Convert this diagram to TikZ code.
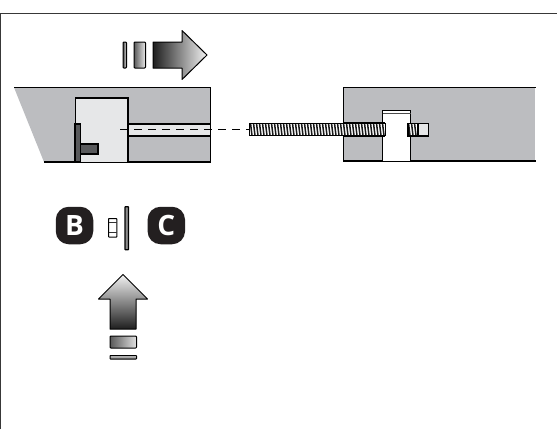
\documentclass[tikz,border=0pt]{standalone}
\usepackage{fontspec}
\setsansfont{Open Sans}
\definecolor{blockgray}{HTML}{BCBDC0}
\definecolor{lightgray2}{HTML}{E6E7E8}
\definecolor{darkbar}{HTML}{58595B}
\definecolor{badge}{HTML}{231F20}
\tikzset{
  outl/.style={draw=black,line width=1.5pt,line join=miter},
  grad/.style={draw=black,line width=1pt,line join=round},
  badgebox/.style={fill=badge,text=white,rounded corners=13pt,minimum size=37.5pt,inner sep=0pt,font=\sffamily\bfseries\fontsize{28}{28}\selectfont},
}
\begin{document}
\begin{tikzpicture}[x=1pt,y=-1pt]
\useasboundingbox (0,0) rectangle (557,429);
\draw[color=black!78,line width=1.2pt] (0.5,429) -- (0.5,13.5) -- (557,13.5);
% top arrow
\draw[grad,left color=black!88,right color=black!5] (153,42) -- (182,42) -- (182,30.5) -- (207,55) -- (182,79.5) -- (182,68) -- (153,68) -- cycle;
\draw[grad,left color=black!65,right color=black!8,rounded corners=0.8pt] (134,42) rectangle (145.5,68);
\draw[grad,left color=black!70,right color=black!10,rounded corners=0.8pt] (123,42) rectangle (126.5,68);
% left block
\fill[blockgray] (14,87.5) -- (210.5,87.5) -- (210.5,162) -- (44,162) -- cycle;
\draw[outl] (14,87.5) -- (210.5,87.5) -- (210.5,162) -- (44,162);
\draw[outl,fill=lightgray2] (75.5,162) -- (75.5,98) -- (128,98) -- (128,162);
\draw[outl,fill=lightgray2] (128,124) rectangle (210.5,136);
\draw[outl,fill=darkbar] (75,124) rectangle (80.5,162);
\draw[outl,fill=darkbar] (80.5,144) rectangle (98,154);
% right block
\fill[blockgray] (343.5,87.3) rectangle (535,161);
\draw[outl] (535.5,87.3) -- (343.5,87.3) -- (343.5,161) -- (535.5,161);
\draw[outl,fill=white] (382.5,161) -- (382.5,110.5) -- (410.5,110.5) -- (410.5,161);
\draw[line width=0.8pt,color=black!70] (382.5,113.5) -- (410.5,113.5);
% dash line
\coordinate (d1) at (120,129.5);
\coordinate (d2) at (249,129.5);
\draw[line width=0.9pt,dash pattern=on 8pt off 6pt] (d1) -- (d2);
% screw
\fill[white] (250,124) rectangle (385,135.5);
\foreach \x in {250.6,253.6,...,384}{\draw[line width=1.5pt,color=black!90] (\x,124) -- (\x+1.4,135.5);}
\draw[line width=1pt] (249.7,123.6) rectangle (385,135.9);
\draw[line width=2pt] (343.5,123.2) -- (385,123.2) (343.5,136.2) -- (385,136.2);
% far end of the screw
\fill[white] (408,124) rectangle (418,135.5);
\foreach \x in {408.6,411.6,414.6}{\draw[line width=1.5pt,color=black!90] (\x,124) -- (\x+1.4,135.5);}
\draw[outl,fill=lightgray2] (418,123.5) rectangle (428.5,135.8);
\draw[line width=1.5pt] (418,123.5) -- (408,123.5) -- (408,135.8) -- (418,135.8);
% badges
\node[badgebox] (B) at (74.5,225.5) {B};
\node[badgebox] (C) at (166.3,225.5) {C};
% small parts
\draw[line width=1pt,fill=white,rounded corners=0.5pt] (108.5,218.7) rectangle (116.8,237);
\draw[line width=0.7pt,color=black!80] (108.5,222) -- (116.8,222) (108.5,232.5) -- (116.8,232.5);
\draw[line width=1.2pt,fill=black!45,rounded corners=0.5pt] (125,206.7) rectangle (128.5,249.7);
% up arrow
\draw[grad,top color=black!5,bottom color=black!88] (123,274.5) -- (147.5,299) -- (136,299) -- (136,329) -- (110,329) -- (110,299) -- (98.5,299) -- cycle;
\draw[grad,left color=black!65,right color=black!12,rounded corners=0.8pt] (110,336) rectangle (136.5,348);
\draw[grad,top color=black!15,bottom color=black!60,rounded corners=0.5pt] (110,355.5) rectangle (136.5,359);
\end{tikzpicture}
\end{document}
